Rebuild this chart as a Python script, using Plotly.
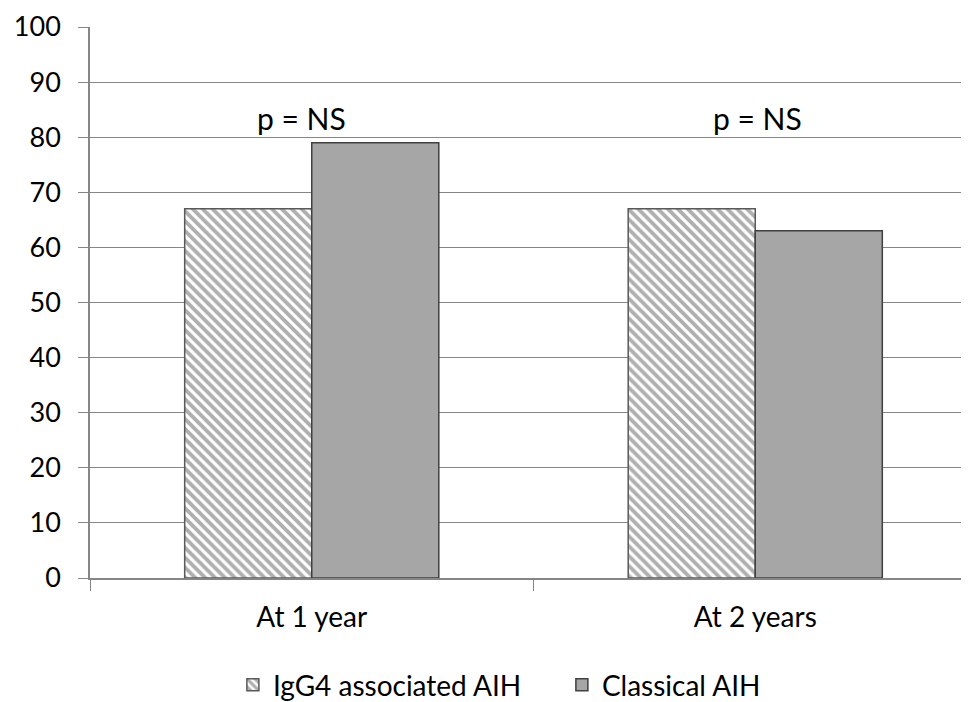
import plotly.graph_objects as go

categories = ["At 1 year", "At 2 years"]
igg4_values = [67, 67]
classical_values = [79, 63]
series_names = ["IgG4 associated AIH", "Classical AIH"]
p_labels = ["p = NS", "p = NS"]
p_label_y = [83.5, 83.5]

FONT = "Lato, Open Sans, sans-serif"

fig = go.Figure()
fig.add_trace(go.Bar(
    x=categories, y=igg4_values, name=series_names[0],
    marker=dict(
        color="white",
        line=dict(color="#595959", width=1.5),
        pattern=dict(shape="\\", fgcolor="#5f5f5f", bgcolor="white", size=7, solidity=0.55),
    ),
))
fig.add_trace(go.Bar(
    x=categories, y=classical_values, name=series_names[1],
    marker=dict(color="#a6a6a6", line=dict(color="#404040", width=1.5)),
))

for i, (c, t) in enumerate(zip(categories, p_labels)):
    fig.add_annotation(x=c, y=p_label_y[i], text=t, showarrow=False,
                       xshift=-10 if i == 0 else 2,
                       font=dict(family=FONT, size=30, color="black"))

fig.update_layout(
    width=969, height=702,
    margin=dict(l=82, r=0, t=19, b=131),
    paper_bgcolor="white", plot_bgcolor="white",
    barmode="group", bargap=0.427, bargroupgap=0,
    font=dict(family=FONT, size=28, color="black"),
    showlegend=True,
    legend=dict(orientation="h", x=0.532, xanchor="center", y=-0.195, yanchor="middle",
                font=dict(family=FONT, size=28), itemwidth=30, entrywidth=284),
)
fig.update_yaxes(range=[0, 100], dtick=10, showgrid=True, gridcolor="#868686", gridwidth=1,
                 showline=True, linecolor="#868686", linewidth=1.5,
                 ticks="outside", ticklen=10, tickcolor="#868686",
                 ticklabelstandoff=12,
                 tickfont=dict(size=27), zeroline=False)
fig.update_xaxes(showgrid=False, showline=True, linecolor="#868686", linewidth=1.5,
                 ticks="outside", ticklen=11, tickcolor="#868686", tickson="boundaries",
                 ticklabelstandoff=14,
                 tickfont=dict(size=28))

fig.write_html("out.html")
